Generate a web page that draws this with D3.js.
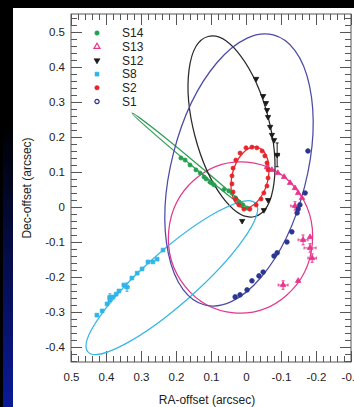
<!DOCTYPE html>
<html><head><meta charset="utf-8">
<script src="https://cdn.jsdelivr.net/npm/d3@7"></script>
<style>
html,body{margin:0;padding:0;background:#fff;}
svg{display:block;}
text{font-family:"Liberation Sans",Arial,Helvetica,sans-serif;fill:#222;}
</style></head><body>
<svg id="c" width="354" height="407"></svg>
<script>
// ---------------- DATA ----------------
const stars = ["S14","S13","S12","S8","S2","S1"];

// projected orbit ellipses (arcsec): centre RA, centre Dec, semi-major, semi-minor, tilt (deg on sky image)
const orbitCenterRA  = [0.157, 0.0157, 0.0414, 0.212, -0.0114, 0.020];
const orbitCenterDec = [0.1286, -0.0871, 0.230, -0.2017, 0.0843, 0.1057];
const orbitSemiMajor = [0.219, 0.216, 0.2657, 0.320, 0.0889, 0.398];
const orbitSemiMinor = [0.0068, 0.206, 0.108, 0.0757, 0.0514, 0.1934];
const orbitTilt      = [39.7, -85, 75.4, -41.5, -76, -75.75];

// observed positions [RA, Dec]
const s14Pos = [[0.186,0.14],[0.174,0.134],[0.16,0.12],[0.143,0.106],[0.131,0.097],[0.12,0.086],[0.114,0.08],[0.103,0.071],[0.097,0.068],[0.091,0.063],[0.063,0.05],[0.049,0.046],[0.040,0.04],[0.03,0.026],[0.02,0.014],[0.009,0.006],[-0.003,-0.003]];
const s13Pos = [[-0.06,0.114],[-0.074,0.106],[-0.091,0.097],[-0.109,0.086],[-0.126,0.069],[-0.14,0.054],[-0.149,0.04],[-0.16,0.026],[-0.183,-0.086],[-0.149,-0.211]];
const s13Err = [[-0.14,0.003,0.012,0.012],[-0.163,-0.094,0.014,0.014],[-0.183,-0.117,0.017,0.012],[-0.189,-0.146,0.012,0.012],[-0.106,-0.223,0.014,0.012]];
const s12Pos = [[-0.029,0.366],[-0.049,0.317],[-0.057,0.297],[-0.06,0.277],[-0.063,0.257],[-0.069,0.229],[-0.074,0.206],[-0.08,0.191],[-0.063,0.02],[-0.051,-0.009],[0.011,-0.04]];
const s12Err = [[-0.089,0.149,0.006,0.034]];
const s8Pos  = [[0.426,-0.309],[0.411,-0.297],[0.397,-0.277],[0.389,-0.266],[0.38,-0.257],[0.371,-0.249],[0.363,-0.24],[0.349,-0.223],[0.326,-0.203],[0.311,-0.189],[0.297,-0.177],[0.28,-0.157],[0.266,-0.157],[0.254,-0.149],[0.237,-0.123]];
const s8Err  = [[0.34,-0.229,0.006,0.012],[0.389,-0.258,0.005,0.010]];
const s2Pos  = [[0,0.169],[-0.017,0.171],[-0.031,0.169],[-0.046,0.16],[-0.054,0.146],[-0.06,0.126],[-0.063,0.106],[-0.063,0.083],[-0.06,0.06],[-0.051,0.04],[-0.043,0.023],[-0.029,0.006],[-0.011,-0.006],[0.006,-0.006],[0.02,0.006],[0.029,0.023],[0.037,0.043],[0.04,0.066],[0.04,0.089],[0.037,0.111],[0.029,0.134],[0.017,0.154]];
const s1Pos  = [[-0.177,0.16],[-0.169,0.04],[-0.154,0.006],[-0.149,-0.006],[-0.146,-0.017],[-0.131,-0.071],[-0.117,-0.1],[-0.089,-0.131],[-0.08,-0.14],[-0.049,-0.186],[-0.037,-0.197],[-0.017,-0.211],[-0.003,-0.237],[0.017,-0.251],[0.031,-0.257]];

const xTicks = [0.5,0.4,0.3,0.2,0.1,0,-0.1,-0.2,-0.3];
const xTickLabels = ["0.5","0.4","0.3","0.2","0.1","0","-0.1","-0.2","-0.3"];
const yTicks = [0.5,0.4,0.3,0.2,0.1,0,-0.1,-0.2,-0.3,-0.4];
const yTickLabels = ["0.5","0.4","0.3","0.2","0.1","0","-0.1","-0.2","-0.3","-0.4"];

// ---------------- STYLE ----------------
const orbitColor = {S14:"#2f9d55",S13:"#e2398d",S12:"#2a2a2a",S8:"#38b6e6",S2:"#e5262c",S1:"#4b4ba6"};
const markColor  = {S14:"#22a04e",S13:"#e8358c",S12:"#1a1a1a",S8:"#2fb4ea",S2:"#e8242b",S1:"#2b3592"};

const W=354,H=407;
const svg=d3.select("#c");
const defs=svg.append("defs");
const gr=defs.append("linearGradient").attr("id","side").attr("x1",0).attr("y1",0).attr("x2",0).attr("y2",1);
gr.append("stop").attr("offset","0%").attr("stop-color","#000");
gr.append("stop").attr("offset","30%").attr("stop-color","#000");
gr.append("stop").attr("offset","100%").attr("stop-color","#0b1a98");
svg.append("rect").attr("width",W).attr("height",H).attr("fill","#000");
svg.append("rect").attr("x",3).attr("y",0).attr("width",10).attr("height",H).attr("fill","url(#side)");
svg.append("rect").attr("x",13).attr("y",8).attr("width",W-13).attr("height",H-8).attr("fill","#fff");

const L=71,R=351,T=14,B=362;
const x=d3.scaleLinear().domain([0.5,-0.3]).range([L,R]);
const y=d3.scaleLinear().domain([-0.4429,0.5514]).range([B,T]);

const clip=defs.append("clipPath").attr("id","pc");
clip.append("rect").attr("x",L).attr("y",T).attr("width",R-L).attr("height",B-T);

// axes: minor + major ticks on all sides, inward
const minorX=d3.range(-30,51,2).map(d=>d/100);
const minorY=d3.range(-44,56,2).map(d=>d/100);
const tickCol="#555";
function styleAxis(sel){
  sel.select(".domain").remove();
  sel.selectAll("line").attr("stroke",tickCol).attr("stroke-width",1);
  sel.selectAll("text").attr("font-size","11.5px").attr("fill","#222")
     .attr("font-family","Liberation Sans, Arial, sans-serif");
}
const axG=svg.append("g");
axG.append("g").attr("transform",`translate(0,${B})`).call(d3.axisBottom(x).tickValues(minorX).tickFormat("").tickSize(-6).tickSizeOuter(0)).call(styleAxis);
axG.append("g").attr("transform",`translate(0,${B})`).call(d3.axisBottom(x).tickValues(xTicks).tickFormat((d,i)=>xTickLabels[i]).tickSize(-11).tickPadding(11).tickSizeOuter(0)).call(styleAxis);
axG.append("g").attr("transform",`translate(0,${T})`).call(d3.axisTop(x).tickValues(minorX).tickFormat("").tickSize(-6).tickSizeOuter(0)).call(styleAxis);
axG.append("g").attr("transform",`translate(0,${T})`).call(d3.axisTop(x).tickValues(xTicks).tickFormat("").tickSize(-11).tickSizeOuter(0)).call(styleAxis);
axG.append("g").attr("transform",`translate(${L},0)`).call(d3.axisLeft(y).tickValues(minorY).tickFormat("").tickSize(-6).tickSizeOuter(0)).call(styleAxis);
axG.append("g").attr("transform",`translate(${L},0)`).call(d3.axisLeft(y).tickValues(yTicks).tickFormat((d,i)=>yTickLabels[i]).tickSize(-11).tickPadding(6).tickSizeOuter(0)).call(styleAxis);
axG.append("g").attr("transform",`translate(${R},0)`).call(d3.axisRight(y).tickValues(minorY).tickFormat("").tickSize(-6).tickSizeOuter(0)).call(styleAxis);
axG.append("g").attr("transform",`translate(${R},0)`).call(d3.axisRight(y).tickValues(yTicks).tickFormat("").tickSize(-11).tickSizeOuter(0)).call(styleAxis);
svg.append("rect").attr("x",L).attr("y",T).attr("width",R-L).attr("height",B-T).attr("fill","none").attr("stroke",tickCol).attr("stroke-width",1);

// axis titles
svg.append("text").attr("x",(L+R)/2-4).attr("y",404).attr("text-anchor","middle").attr("font-size","12px").attr("fill","#333").text("RA-offset (arcsec)");
svg.append("text").attr("transform",`translate(31,${188}) rotate(-90)`).attr("text-anchor","middle").attr("font-size","12px").attr("fill","#333").text("Dec-offset (arcsec)");

// orbits
const orbG=svg.append("g").attr("clip-path","url(#pc)");
stars.forEach((s,i)=>{
  const cx=x(orbitCenterRA[i]), cy=y(orbitCenterDec[i]);
  const rx=Math.abs(x(orbitSemiMajor[i])-x(0));
  const ry=Math.abs(y(orbitSemiMinor[i])-y(0));
  orbG.append("ellipse").attr("cx",cx).attr("cy",cy).attr("rx",rx).attr("ry",ry)
    .attr("transform",`rotate(${orbitTilt[i]},${cx},${cy})`)
    .attr("fill","none").attr("stroke",orbitColor[s]).attr("stroke-width",1.25);
});

// markers
const symFor={S14:d3.symbolCircle,S13:d3.symbolTriangle,S12:d3.symbolTriangle,S8:d3.symbolSquare,S2:d3.symbolCircle,S1:d3.symbolCircle};
const sizeFor={S14:13,S13:13,S12:12,S8:14,S2:13,S1:17};
function drawErr(data,s){
  const g=svg.append("g").attr("stroke",markColor[s]).attr("stroke-width",1);
  data.forEach(d=>{
    const px=x(d[0]),py=y(d[1]);
    const ex=Math.abs(x(d[2])-x(0)), ey=Math.abs(y(d[3])-y(0));
    g.append("line").attr("x1",px-ex).attr("x2",px+ex).attr("y1",py).attr("y2",py);
    g.append("line").attr("x1",px).attr("x2",px).attr("y1",py-ey).attr("y2",py+ey);
    g.append("line").attr("x1",px-ex).attr("x2",px-ex).attr("y1",py-1.5).attr("y2",py+1.5);
    g.append("line").attr("x1",px+ex).attr("x2",px+ex).attr("y1",py-1.5).attr("y2",py+1.5);
    g.append("line").attr("x1",px-1.5).attr("x2",px+1.5).attr("y1",py-ey).attr("y2",py-ey);
    g.append("line").attr("x1",px-1.5).attr("x2",px+1.5).attr("y1",py+ey).attr("y2",py+ey);
  });
}
function drawPts(data,s){
  const rot = s==="S12"?180:0;
  const g=svg.append("g");
  g.selectAll("path").data(data).join("path")
    .attr("d",d3.symbol().type(symFor[s]).size(sizeFor[s]))
    .attr("transform",d=>`translate(${x(d[0])},${y(d[1])}) rotate(${rot})`)
    .attr("fill",markColor[s])
    .attr("stroke",markColor[s]).attr("stroke-width",0.8);
}
drawErr(s13Err,"S13"); drawErr(s12Err,"S12"); drawErr(s8Err,"S8");
drawPts(s14Pos,"S14"); drawPts(s13Pos,"S13"); drawPts(s13Err,"S13");
drawPts(s12Pos,"S12"); drawPts(s12Err,"S12");
drawPts(s8Pos,"S8"); drawPts(s8Err,"S8");
drawPts(s2Pos,"S2"); drawPts(s1Pos,"S1");

// legend
const lg=svg.append("g");
stars.forEach((s,i)=>{
  const ly=33+i*13.7;
  const rot = s==="S12"?180:0;
  lg.append("path").attr("d",d3.symbol().type(symFor[s]).size(s==="S1"?14:16)())
    .attr("transform",`translate(97,${ly}) rotate(${rot})`)
    .attr("fill",s==="S1"||s==="S13"?"none":markColor[s])
    .attr("stroke",markColor[s]).attr("stroke-width",s==="S1"||s==="S13"?1.2:0.5);
  lg.append("text").attr("x",122).attr("y",ly+4.3).attr("font-size","12px").attr("fill","#222").text(s);
});
</script>
</body></html>
